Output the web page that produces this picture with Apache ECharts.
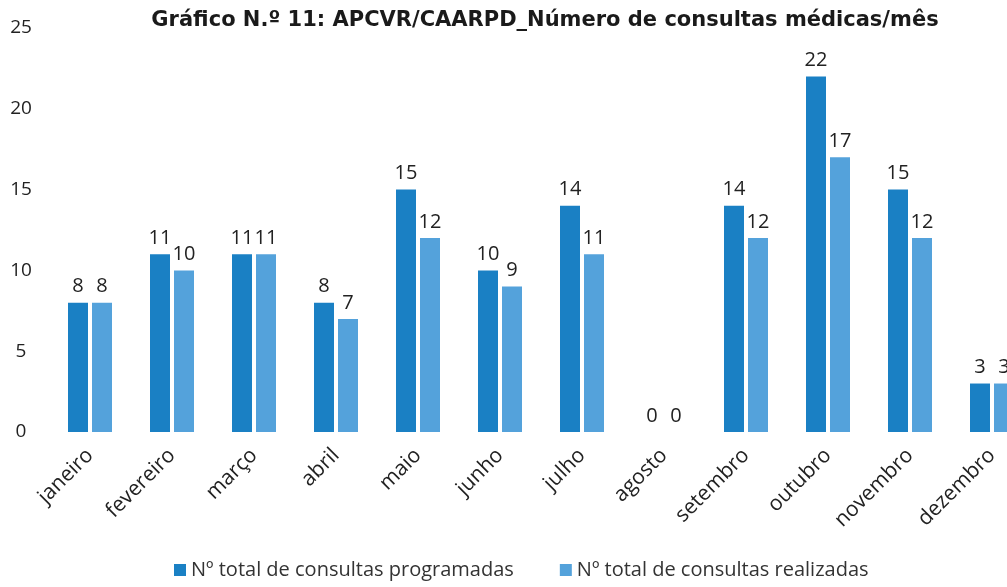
<!DOCTYPE html>
<html>
<head>
<meta charset="utf-8">
<script src="https://cdn.jsdelivr.net/npm/echarts@6/dist/echarts.min.js"></script>
<style>
html,body{margin:0;padding:0;background:#fff;}
#main{width:1007px;height:587px;}
</style>
</head>
<body>
<div id="main"></div>
<script>
// 数据
var meses = ['janeiro','fevereiro','março','abril','maio','junho','julho','agosto','setembro','outubro','novembro','dezembro'];
var programadas = [8,11,11,8,15,10,14,0,14,22,15,3];
var realizadas = [8,10,11,7,12,9,11,0,12,17,12,3];
var yTicks = [0,5,10,15,20,25];

var myChart = echarts.init(document.getElementById('main'));

var labelStyle = {
    show: true,
    position: 'top',
    distance: 6,
    fontSize: 20,
    color: '#222',
    fontFamily: 'Open Sans'
};

var option = {
    animation: false,
    backgroundColor: '#fff',
    title: {
        text: 'Gráfico N.º 11: APCVR/CAARPD_Número de consultas médicas/mês',
        left: 540,
        textAlign: 'center',
        top: 5,
        textStyle: {
            fontSize: 21,
            fontWeight: 'bold',
            color: '#1a1a1a',
            fontFamily: 'DejaVu Sans'
        }
    },
    legend: {
        bottom: 2,
        left: 169,
        itemGap: 46,
        itemWidth: 12,
        itemHeight: 12,
        icon: 'rect',
        textStyle: {fontSize: 20, color: '#333', fontFamily: 'Open Sans'},
        data: ['Nº total de consultas programadas','Nº total de consultas realizadas']
    },
    grid: {
        left: 49,
        top: 28,
        width: 984,
        height: 404,
        outerBoundsMode: 'none',
        containLabel: false
    },
    xAxis: {
        type: 'category',
        data: meses,
        axisLine: {show: false},
        axisTick: {show: false},
        axisLabel: {
            rotate: 45,
            interval: 0,
            margin: 20,
            fontSize: 21,
            color: '#222',
            fontFamily: 'Open Sans'
        }
    },
    yAxis: {
        type: 'value',
        min: yTicks[0],
        max: yTicks[yTicks.length - 1],
        interval: 5,
        splitLine: {show: false},
        axisLine: {show: false},
        axisTick: {show: false},
        axisLabel: {
            align: 'center',
            margin: 28,
            fontSize: 19,
            color: '#222',
            fontFamily: 'Open Sans'
        }
    },
    series: [{
        name: 'Nº total de consultas programadas',
        type: 'bar',
        data: programadas,
        barWidth: 20,
        barGap: '20%',
        itemStyle: {color: '#1a80c4'},
        label: labelStyle
    }, {
        name: 'Nº total de consultas realizadas',
        type: 'bar',
        data: realizadas,
        barWidth: 20,
        itemStyle: {color: '#54a2db'},
        label: labelStyle
    }]
};
myChart.setOption(option);
</script>
</body>
</html>
